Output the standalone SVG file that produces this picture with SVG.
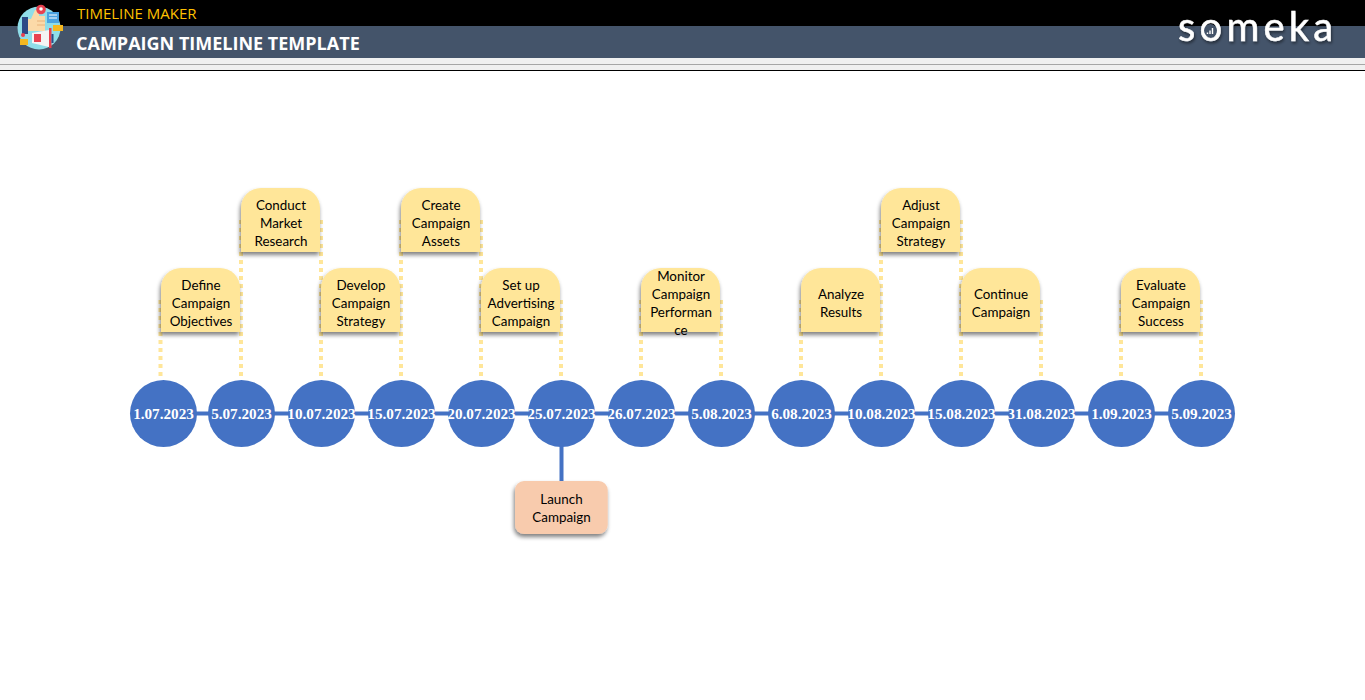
<svg xmlns="http://www.w3.org/2000/svg" width="1365" height="700" viewBox="0 0 1365 700">
<defs>
<filter id="sh" x="-20%" y="-20%" width="150%" height="150%"><feGaussianBlur in="SourceAlpha" stdDeviation="2"/><feOffset dx="-1.500" dy="3"/><feComponentTransfer><feFuncA type="linear" slope="0.5"/></feComponentTransfer><feMerge><feMergeNode/><feMergeNode in="SourceGraphic"/></feMerge></filter>
<filter id="ls" x="-10%" y="-20%" width="120%" height="150%"><feGaussianBlur in="SourceAlpha" stdDeviation="1.500"/><feOffset dx="1" dy="2"/><feComponentTransfer><feFuncA type="linear" slope="0.5"/></feComponentTransfer><feMerge><feMergeNode/><feMergeNode in="SourceGraphic"/></feMerge></filter>
<path id="box" d="M0 64V20A20 20 0 0 1 20 0H59A20 20 0 0 1 79 20V64Z" fill="#ffe699"/>
<circle id="c" r="33.500" fill="#4472c4"/>
</defs>
<style>
.t{font-family:Lato,"Open Sans",sans-serif;font-size:13.400px;fill:#000;text-anchor:middle}
.d{font-family:"Liberation Serif","DejaVu Serif",serif;font-size:15.200px;font-weight:700;fill:#fff;text-anchor:middle}
.dot{stroke:#ffe699;stroke-width:4;stroke-dasharray:4 4;fill:none}
.lnk{stroke:#4472c4;stroke-width:4;fill:none}
</style>
<rect width="1365" height="700" fill="#fff"/>
<g id="header">
<rect width="1365" height="26" fill="#000"/>
<rect y="26" width="1365" height="32" fill="#44546a"/>
<rect y="58" width="1365" height="12" fill="#f0f0f0"/>
<rect y="64" width="1365" height="1" fill="#a6a6a6"/>
<rect y="70" width="1365" height="1" fill="#000"/>
<text x="77" y="19" font-family="'Open Sans',sans-serif" font-size="15" fill="#ffc000">TIMELINE MAKER</text>
<text x="76" y="50" font-family="'Open Sans',sans-serif" font-size="18" font-weight="700" fill="#fff">CAMPAIGN TIMELINE TEMPLATE</text>
<g id="logo-icon">
<circle cx="39" cy="28" r="21.500" fill="#8fdde8"/>
<rect x="22" y="17" width="6" height="17" fill="#2d4a86"/>
<path d="M28 19H31L35 10H39V16H45V31H28Z" fill="#fbd9a8"/>
<path d="M37 21H45M37 25H45" stroke="#e8b27a" stroke-width="1"/>
<circle cx="41" cy="9.500" r="4.800" fill="#e8414f"/>
<circle cx="41" cy="9" r="1.800" fill="#fff"/>
<rect x="47" y="12" width="12" height="11" fill="#4aa3e0"/>
<path d="M49 15H57M49 18H57" stroke="#fff" stroke-width="1"/>
<rect x="53" y="25" width="10" height="6" fill="#f5b81f"/>
<rect x="20" y="39" width="8" height="6" fill="#f5b81f"/>
<circle cx="23" cy="35" r="2" fill="#e8414f"/>
<path d="M32 33L49 30V47L32 43Z" fill="#f4f4f4"/>
<rect x="49" y="28" width="2.500" height="20" fill="#e8414f"/>
<rect x="51.500" y="34" width="2" height="9" fill="#2d4a86"/>
<rect x="34" y="34" width="7" height="8" fill="#e8414f"/>
</g>
<g id="logo-text" filter="url(#ls)">
<text x="1178" y="41" font-family="Lato,sans-serif" font-size="40" letter-spacing="4.200" stroke="#fff" stroke-width="0.500" fill="#fff">someka</text>
</g>
<g id="logo-mark">
<circle cx="1210.500" cy="30.500" r="6.500" fill="#44546a"/>
<path d="M1207.500 32.500V34M1210 30.500V34M1212.500 28V34" stroke="#fff" stroke-width="1.400" fill="none"/>
</g>
</g>
<g id="connectors">
<path class="lnk" d="M163.500 413.500H1201.500M561.500 413.500V490"/>
<path class="dot" d="M160.500 300V376M241 220V376M321 220V376M401 220V376M481 220V376M561 300V376M641 300V376M721 300V376M801 300V376M881 220V376M961 220V376M1041 300V376M1121 300V376M1201 300V376"/>
</g>
<g id="n1"><use href="#box" x="161" y="268" filter="url(#sh)"/><text class="t" x="201" y="290">Define</text><text class="t" x="201" y="308">Campaign</text><text class="t" x="201" y="326">Objectives</text></g>
<g id="n2"><use href="#box" x="241" y="188" filter="url(#sh)"/><text class="t" x="281" y="210">Conduct</text><text class="t" x="281" y="228">Market</text><text class="t" x="281" y="246">Research</text></g>
<g id="n3"><use href="#box" x="321" y="268" filter="url(#sh)"/><text class="t" x="361" y="290">Develop</text><text class="t" x="361" y="308">Campaign</text><text class="t" x="361" y="326">Strategy</text></g>
<g id="n4"><use href="#box" x="401" y="188" filter="url(#sh)"/><text class="t" x="441" y="210">Create</text><text class="t" x="441" y="228">Campaign</text><text class="t" x="441" y="246">Assets</text></g>
<g id="n5"><use href="#box" x="481" y="268" filter="url(#sh)"/><text class="t" x="521" y="290">Set up</text><text class="t" x="521" y="308">Advertising</text><text class="t" x="521" y="326">Campaign</text></g>
<g id="n6"><use href="#box" x="641" y="268" filter="url(#sh)"/><text class="t" x="681" y="281">Monitor</text><text class="t" x="681" y="299">Campaign</text><text class="t" x="681" y="317">Performan</text><text class="t" x="681" y="335">ce</text></g>
<g id="n7"><use href="#box" x="801" y="268" filter="url(#sh)"/><text class="t" x="841" y="299">Analyze</text><text class="t" x="841" y="317">Results</text></g>
<g id="n8"><use href="#box" x="881" y="188" filter="url(#sh)"/><text class="t" x="921" y="210">Adjust</text><text class="t" x="921" y="228">Campaign</text><text class="t" x="921" y="246">Strategy</text></g>
<g id="n9"><use href="#box" x="961" y="268" filter="url(#sh)"/><text class="t" x="1001" y="299">Continue</text><text class="t" x="1001" y="317">Campaign</text></g>
<g id="n10"><use href="#box" x="1121" y="268" filter="url(#sh)"/><text class="t" x="1161" y="290">Evaluate</text><text class="t" x="1161" y="308">Campaign</text><text class="t" x="1161" y="326">Success</text></g>
<g id="launch"><rect x="515" y="481" width="92.700" height="53" rx="9" fill="#f8cbad" filter="url(#sh)"/><text class="t" x="561.500" y="504">Launch</text><text class="t" x="561.500" y="522">Campaign</text></g>
<g id="d1"><use href="#c" x="163.500" y="413.500"/><text class="d" x="163.500" y="419">1.07.2023</text></g>
<g id="d2"><use href="#c" x="241.500" y="413.500"/><text class="d" x="241.500" y="419">5.07.2023</text></g>
<g id="d3"><use href="#c" x="321.500" y="413.500"/><text class="d" x="321.500" y="419">10.07.2023</text></g>
<g id="d4"><use href="#c" x="401.500" y="413.500"/><text class="d" x="401.500" y="419">15.07.2023</text></g>
<g id="d5"><use href="#c" x="481.500" y="413.500"/><text class="d" x="481.500" y="419">20.07.2023</text></g>
<g id="d6"><use href="#c" x="561.500" y="413.500"/><text class="d" x="561.500" y="419">25.07.2023</text></g>
<g id="d7"><use href="#c" x="641.500" y="413.500"/><text class="d" x="641.500" y="419">26.07.2023</text></g>
<g id="d8"><use href="#c" x="721.500" y="413.500"/><text class="d" x="721.500" y="419">5.08.2023</text></g>
<g id="d9"><use href="#c" x="801.500" y="413.500"/><text class="d" x="801.500" y="419">6.08.2023</text></g>
<g id="d10"><use href="#c" x="881.500" y="413.500"/><text class="d" x="881.500" y="419">10.08.2023</text></g>
<g id="d11"><use href="#c" x="961.500" y="413.500"/><text class="d" x="961.500" y="419">15.08.2023</text></g>
<g id="d12"><use href="#c" x="1041.500" y="413.500"/><text class="d" x="1041.500" y="419">31.08.2023</text></g>
<g id="d13"><use href="#c" x="1121.500" y="413.500"/><text class="d" x="1121.500" y="419">1.09.2023</text></g>
<g id="d14"><use href="#c" x="1201.500" y="413.500"/><text class="d" x="1201.500" y="419">5.09.2023</text></g>
</svg>
